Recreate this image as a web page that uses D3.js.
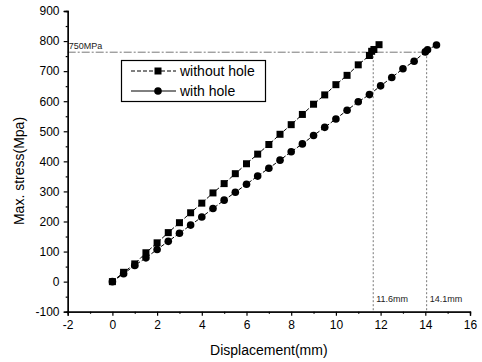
<!DOCTYPE html>
<html><head><meta charset="utf-8">
<script src="https://cdn.jsdelivr.net/npm/d3@7/dist/d3.min.js"></script>
<style>body{margin:0;background:#fff}svg{display:block}text{font-family:"Liberation Sans",Arial,sans-serif}</style>
</head><body>
<script>
const withoutX = [0,0.5,1,1.5,2,2.5,3,3.5,4,4.5,5,5.5,6,6.5,7,7.5,8,8.5,9,9.5,10,10.5,11,11.5,11.6,11.7,11.93];
const withoutY = [0,31,59,96,129,163,196,229,261,295,326,359,392,424,456,490,522,556,590,621,655,686,721,752,766,772,788];
const withX = [0,0.5,1,1.5,2,2.5,3,3.5,4,4.5,5,5.5,6,6.5,7,7.5,8,8.5,9,9.5,10,10.5,11,11.5,12,12.5,13,13.5,14,14.1,14.5];
const withY = [0,26,54,79,107,134,161,188,215,243,271,297,324,351,377,404,432,458,486,513,541,570,598,622,651,679,708,733,764,771,787];
const xTicks = [-2,0,2,4,6,8,10,12,14,16];
const yTicks = [-100,0,100,200,300,400,500,600,700,800,900];
const seriesNames = ["without hole","with hole"];
const refStress = 763, refStressLabel = "750MPa";
const refDisp = [11.67, 14.06], refDispLabels = ["11.6mm","14.1mm"];

const W=482,H=362;
const svg=d3.select("body").append("svg").attr("width",W).attr("height",H);
const x=d3.scaleLinear().domain([-2,16]).range([67.7,470]);
const y=d3.scaleLinear().domain([-100,900]).range([311.7,11]);

// reference lines
svg.append("line").attr("x1",x(-2)).attr("x2",x(refDisp[1])).attr("y1",y(refStress)).attr("y2",y(refStress))
  .attr("stroke","#777").attr("stroke-width",1).attr("stroke-dasharray","8,2,2,2");
refDisp.forEach((d,i)=>{
  svg.append("line").attr("x1",x(d)).attr("x2",x(d)).attr("y1",y(refStress)).attr("y2",y(-100))
    .attr("stroke","#777").attr("stroke-width",1).attr("stroke-dasharray","2,2");
  svg.append("text").attr("x",x(d)+3).attr("y",302).attr("font-size",9).attr("fill","#222").text(refDispLabels[i]);
});
svg.append("text").attr("x",x(-2)+1).attr("y",y(refStress)-3).attr("font-size",9).attr("fill","#222").text(refStressLabel);

// axes
const fmt=d=>String(d);
const xa=svg.append("g").attr("transform",`translate(0,${y(-100)})`)
  .call(d3.axisBottom(x).tickValues(xTicks).tickSize(4).tickFormat(fmt));
svg.append("g").attr("transform",`translate(0,${y(-100)})`)
  .call(d3.axisBottom(x).tickValues(d3.range(-1,16,2)).tickSize(2).tickFormat(""));
const ya=svg.append("g").attr("transform",`translate(${x(-2)},0)`)
  .call(d3.axisLeft(y).tickValues(yTicks).tickSize(4).tickFormat(fmt));
svg.append("g").attr("transform",`translate(${x(-2)},0)`)
  .call(d3.axisLeft(y).tickValues(d3.range(-50,900,100)).tickSize(2).tickFormat(""));
svg.selectAll(".domain").attr("stroke","#000").attr("stroke-width",1.3);
svg.selectAll(".tick line").attr("stroke","#000").attr("stroke-width",1.2);
xa.selectAll("text").attr("font-size",12).attr("font-family","Liberation Sans, Arial").attr("fill","#000").attr("dy","0.9em");
ya.selectAll("text").attr("font-size",12).attr("font-family","Liberation Sans, Arial").attr("fill","#000").attr("dx","-0.1em");

svg.append("text").attr("x",(x(-2)+x(16))/2).attr("y",355).attr("text-anchor","middle").attr("font-size",14).text("Displacement(mm)");
svg.append("text").attr("transform","translate(24,171) rotate(-90)").attr("text-anchor","middle").attr("font-size",14).text("Max. stress(Mpa)");

// series
const line=d3.line().x(d=>x(d[0])).y(d=>y(d[1]));
const s1=withoutX.map((v,i)=>[v,withoutY[i]]);
const s2=withX.map((v,i)=>[v,withY[i]]);
[s1,s2].forEach(s=>svg.append("path").attr("d",line(s)).attr("fill","none").attr("stroke","#000").attr("stroke-width",1).attr("stroke-dasharray","4,2"));
svg.selectAll(".sq").data(s1).enter().append("rect")
  .attr("x",d=>x(d[0])-3.5).attr("y",d=>y(d[1])-3.5).attr("width",7).attr("height",7).attr("fill","#000");
svg.selectAll(".ci").data(s2).enter().append("circle")
  .attr("cx",d=>x(d[0])).attr("cy",d=>y(d[1])).attr("r",3.8).attr("fill","#000");

// legend
const lg=svg.append("g");
lg.append("rect").attr("x",121.5).attr("y",60.5).attr("width",144).attr("height",41).attr("fill","#fff").attr("stroke","#000").attr("stroke-width",1.2);
lg.append("line").attr("x1",131).attr("x2",176).attr("y1",71).attr("y2",71).attr("stroke","#000").attr("stroke-dasharray","4,2");
lg.append("rect").attr("x",154.5).attr("y",67.5).attr("width",7).attr("height",7).attr("fill","#000");
lg.append("line").attr("x1",131).attr("x2",176).attr("y1",91).attr("y2",91).attr("stroke","#000");
lg.append("circle").attr("cx",158).attr("cy",91).attr("r",3.8).attr("fill","#000");
lg.append("text").attr("x",180).attr("y",76).attr("font-size",14).text(seriesNames[0]);
lg.append("text").attr("x",180).attr("y",96).attr("font-size",14).text(seriesNames[1]);
</script>
</body></html>
